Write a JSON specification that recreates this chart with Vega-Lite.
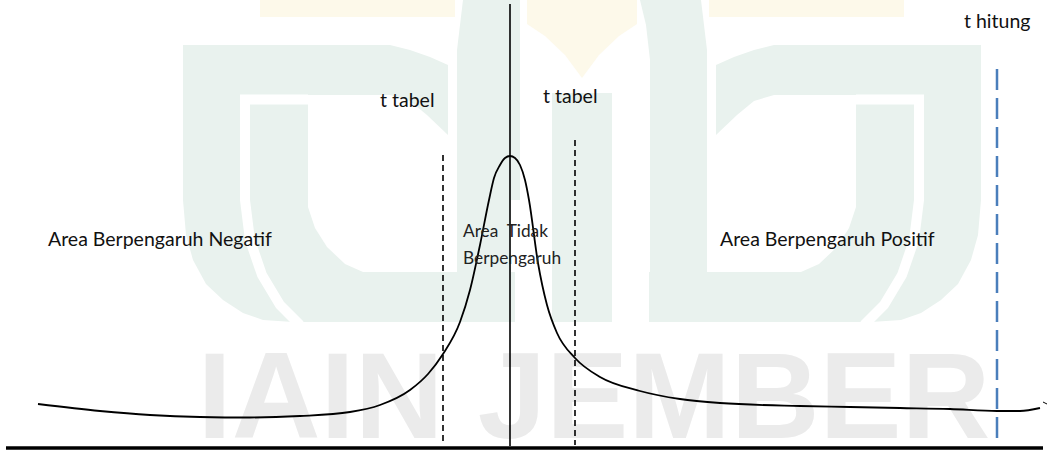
{"$schema":"https://vega.github.io/schema/vega-lite/v6.json","width":1047,"height":451,"autosize":{"type":"none"},"padding":0,"background":"white","config":{"view":{"stroke":null}},
"encoding":{"x":{"field":"x","type":"quantitative","axis":null,"scale":{"domain":[0,1047],"nice":false,"zero":false}},"y":{"field":"y","type":"quantitative","axis":null,"stack":false,"scale":{"domain":[451,0],"nice":false,"zero":false}}},
"layer":[
{"data":{"values":[{"x":260,"y":0,"y2":17,"p":"l"},{"x":455,"y":0,"y2":17,"p":"l"},{"x":709,"y":0,"y2":17,"p":"r"},{"x":904,"y":0,"y2":17,"p":"r"},
{"x":527,"y":0,"y2":24,"p":"c"},{"x":545,"y":0,"y2":36,"p":"c"},{"x":565,"y":0,"y2":55,"p":"c"},{"x":582,"y":0,"y2":78,"p":"c"},{"x":599,"y":0,"y2":55,"p":"c"},{"x":619,"y":0,"y2":36,"p":"c"},{"x":637,"y":0,"y2":24,"p":"c"}]},
"mark":{"type":"area","color":"#FDF9EA"},"encoding":{"y2":{"field":"y2"},"detail":{"field":"p"}}},
{"data":{"values":[
{"x":183,"y":45,"y2":200,"p":"a"},{"x":186,"y":45,"y2":235,"p":"a"},{"x":193,"y":45,"y2":260,"p":"a"},{"x":206,"y":45,"y2":284,"p":"a"},{"x":223,"y":45,"y2":300,"p":"a"},{"x":243,"y":45,"y2":313,"p":"a"},{"x":263,"y":45,"y2":320,"p":"a"},{"x":293,"y":45,"y2":322,"p":"a"},{"x":390,"y":45,"y2":322,"p":"a"},{"x":410,"y":50,"y2":322,"p":"a"},{"x":430,"y":57,"y2":322,"p":"a"},{"x":448,"y":65,"y2":322,"p":"a"},
{"x":440,"y":272,"y2":322,"p":"b"},{"x":515,"y":272,"y2":322,"p":"b"},
{"x":457,"y":50,"y2":322,"p":"c"},{"x":463,"y":0,"y2":322,"p":"c"},{"x":511,"y":0,"y2":322,"p":"c"},
{"x":511,"y":0,"y2":200,"p":"d"},{"x":520,"y":0,"y2":200,"p":"d"},
{"x":552,"y":93,"y2":322,"p":"e"},{"x":612,"y":93,"y2":322,"p":"e"},
{"x":640,"y":0,"y2":0,"p":"f"},{"x":646,"y":0,"y2":25,"p":"f"},{"x":650,"y":0,"y2":60,"p":"f"},{"x":650,"y":0,"y2":322,"p":"f"},{"x":701,"y":0,"y2":322,"p":"f"},{"x":707,"y":50,"y2":322,"p":"f"},
{"x":649,"y":272,"y2":322,"p":"g"},{"x":724,"y":272,"y2":322,"p":"g"},
{"x":716,"y":65,"y2":322,"p":"h"},{"x":734,"y":57,"y2":322,"p":"h"},{"x":754,"y":50,"y2":322,"p":"h"},{"x":774,"y":45,"y2":322,"p":"h"},{"x":871,"y":45,"y2":322,"p":"h"},{"x":901,"y":45,"y2":320,"p":"h"},{"x":921,"y":45,"y2":313,"p":"h"},{"x":941,"y":45,"y2":300,"p":"h"},{"x":958,"y":45,"y2":284,"p":"h"},{"x":971,"y":45,"y2":260,"p":"h"},{"x":978,"y":45,"y2":235,"p":"h"},{"x":981,"y":45,"y2":200,"p":"h"}]},
"mark":{"type":"area","color":"#E9F2EE"},"encoding":{"y2":{"field":"y2"},"detail":{"field":"p"}}},
{"data":{"values":[
{"x":308,"y":95,"y2":207,"p":"l"},{"x":315,"y":95,"y2":228,"p":"l"},{"x":327,"y":95,"y2":247,"p":"l"},{"x":345,"y":95,"y2":264,"p":"l"},{"x":363,"y":95,"y2":272,"p":"l"},{"x":390,"y":95,"y2":272,"p":"l"},{"x":410,"y":101,"y2":272,"p":"l"},{"x":427,"y":115,"y2":272,"p":"l"},{"x":448,"y":135,"y2":272,"p":"l"},
{"x":716,"y":135,"y2":272,"p":"r"},{"x":737,"y":115,"y2":272,"p":"r"},{"x":754,"y":101,"y2":272,"p":"r"},{"x":774,"y":95,"y2":272,"p":"r"},{"x":801,"y":95,"y2":272,"p":"r"},{"x":819,"y":95,"y2":264,"p":"r"},{"x":837,"y":95,"y2":247,"p":"r"},{"x":849,"y":95,"y2":228,"p":"r"},{"x":856,"y":95,"y2":207,"p":"r"}]},
"mark":{"type":"area","color":"white"},"encoding":{"y2":{"field":"y2"},"detail":{"field":"p"}}},
{"data":{"values":[
{"x":308,"y":99.5,"o":1,"p":"l"},{"x":245,"y":99.5,"o":2,"p":"l"},{"x":245,"y":200,"o":3,"p":"l"},{"x":250,"y":240,"o":4,"p":"l"},{"x":262,"y":275,"o":5,"p":"l"},{"x":280,"y":305,"o":6,"p":"l"},{"x":300,"y":325,"o":7,"p":"l"},
{"x":856,"y":99.5,"o":1,"p":"r"},{"x":919,"y":99.5,"o":2,"p":"r"},{"x":919,"y":200,"o":3,"p":"r"},{"x":914,"y":240,"o":4,"p":"r"},{"x":902,"y":275,"o":5,"p":"r"},{"x":884,"y":305,"o":6,"p":"r"},{"x":864,"y":325,"o":7,"p":"r"}]},
"mark":{"type":"line","color":"white","strokeWidth":10},"encoding":{"order":{"field":"o"},"detail":{"field":"p"}}},
{"data":{"values":[{"x":594,"y":438,"t":"IAIN JEMBER"}]},"mark":{"type":"text","font":"Liberation Sans","fontWeight":"bold","fontSize":123,"color":"#EBEBEB","align":"center","baseline":"alphabetic"},"encoding":{"text":{"field":"t"}}},
{"data":{"values":[{"x":510,"y":4},{"x":510,"y":446}]},"mark":{"type":"line","color":"#000000","strokeWidth":1.6},"encoding":{}},
{"data":{"values":[{"x":6,"y":448},{"x":1043,"y":448}]},"mark":{"type":"line","color":"#000000","strokeWidth":3.5},"encoding":{}},
{"data":{"values":[{"x":443,"y":155,"p":"l"},{"x":443,"y":445,"p":"l"},{"x":575,"y":140,"p":"r"},{"x":575,"y":445,"p":"r"}]},"mark":{"type":"line","color":"#000000","strokeWidth":1.6,"strokeDash":[6,4]},"encoding":{"detail":{"field":"p"}}},
{"data":{"values":[{"x":997,"y":69},{"x":997,"y":443}]},"mark":{"type":"line","color":"#4A7EBB","strokeWidth":2.5,"strokeDash":[21,8]},"encoding":{}},
{"data":{"values":[{"x":38,"y":404},{"x":100,"y":411},{"x":150,"y":415},{"x":200,"y":417},{"x":250,"y":417.5},{"x":300,"y":416},{"x":350,"y":412},{"x":380,"y":405},{"x":410,"y":390},{"x":428,"y":374},{"x":443,"y":354},{"x":460,"y":322},{"x":470,"y":290},{"x":480,"y":245},{"x":489,"y":200},{"x":494,"y":178},{"x":500,"y":165},{"x":505,"y":158},{"x":510,"y":156},{"x":515,"y":158},{"x":520,"y":165},{"x":525,"y":180},{"x":529,"y":200},{"x":538,"y":263},{"x":547,"y":305},{"x":557,"y":333},{"x":575,"y":358},{"x":600,"y":377},{"x":640,"y":391},{"x":680,"y":399},{"x":720,"y":403},{"x":800,"y":406},{"x":850,"y":407},{"x":900,"y":408},{"x":950,"y":409},{"x":997,"y":411},{"x":1020,"y":411},{"x":1040,"y":408}]},"mark":{"type":"line","color":"#000000","strokeWidth":1.8,"interpolate":"monotone"},"encoding":{}},
{"data":{"values":[{"x":1043,"y":402},{"x":1047,"y":404}]},"mark":{"type":"line","color":"#000000","strokeWidth":1},"encoding":{}},
{"data":{"values":[{"x":964,"y":28,"t":"t hitung"},{"x":380,"y":107,"t":"t tabel"},{"x":543,"y":103,"t":"t tabel"},{"x":48,"y":246,"t":"Area Berpengaruh Negatif"},{"x":720,"y":246,"t":"Area Berpengaruh Positif"}]},"mark":{"type":"text","font":"Lato","fontSize":19.5,"color":"#111111","align":"left","baseline":"alphabetic"},"encoding":{"text":{"field":"t"}}},
{"data":{"values":[{"x":463,"y":237,"t":"Area\u00a0 Tidak"},{"x":463,"y":264,"t":"Berpengaruh"}]},"mark":{"type":"text","font":"Lato","fontSize":17.3,"color":"#222222","align":"left","baseline":"alphabetic"},"encoding":{"text":{"field":"t"}}}
]}
